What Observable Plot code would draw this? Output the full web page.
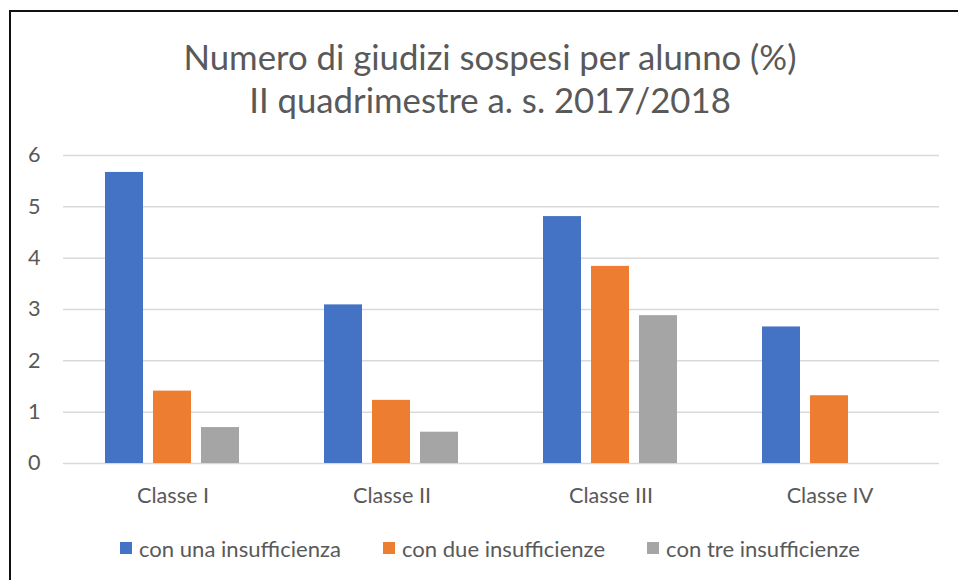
<!DOCTYPE html>
<html><head><meta charset="utf-8">
<script src="https://cdn.jsdelivr.net/npm/d3@7"></script>
<script src="https://cdn.jsdelivr.net/npm/@observablehq/plot@0.6"></script>
<style>
body{margin:0;background:#fff;}
#wrap{position:relative;width:958px;height:580px;overflow:hidden;font-family:Lato,sans-serif;color:#595959;background:#fff;}
#frame{position:absolute;left:9px;top:10px;width:1100px;height:700px;border-left:2px solid #111;border-top:2px solid #111;}
#title{position:absolute;left:0;top:35px;width:980px;text-align:center;white-space:nowrap;line-height:43px;font-weight:400;}
#chart{position:absolute;left:0;top:130px;}
#legend{position:absolute;top:538px;left:0;width:980px;height:20px;display:flex;justify-content:center;align-items:center;white-space:nowrap;}
.item{display:flex;align-items:center;margin:0 21px;}
.sw{width:12px;height:12px;margin-right:7px;}
</style></head>
<body>
<div id="wrap">
  <div id="frame"></div>
  <div id="title"></div>
  <div id="chart"></div>
  <div id="legend"></div>
</div>
<script>
const classi = ["Classe I", "Classe II", "Classe III", "Classe IV"];
const serie = ["con una insufficienza", "con due insufficienze", "con tre insufficienze"];
const unaInsufficienza = [5.67, 3.09, 4.81, 2.66];
const dueInsufficienze = [1.41, 1.23, 3.84, 1.32];
const treInsufficienze = [0.70, 0.61, 2.88, 0];
const colori = ["#4472C4", "#ED7D31", "#A5A5A5"];
const yTicks = [0, 1, 2, 3, 4, 5, 6];
const titolo = ["Numero di giudizi sospesi per alunno (%)", "II quadrimestre a. s. 2017/2018"];

const valori = [unaInsufficienza, dueInsufficienze, treInsufficienze];
const data = [];
classi.forEach((c, i) => serie.forEach((s, j) => data.push({classe: c, serie: s, valore: valori[j][i]})));

const ctx = document.createElement("canvas").getContext("2d");
function fit(text, target, weight = 400, family = "Lato") {
  ctx.font = `${weight} 100px ${family}`;
  return 100 * target / ctx.measureText(text).width;
}
const titleSize = fit(titolo[0], 614, 400);
const tickSize = fit("Classe I", 72);
const legendSize = fit(serie[0], 202);

const t = document.getElementById("title");
t.style.fontSize = titleSize + "px";
t.innerHTML = titolo.join("<br>");

const plot = Plot.plot({
  width: 958,
  height: 380,
  marginTop: 25,
  marginBottom: 47,
  marginLeft: 62,
  marginRight: 18,
  style: {fontFamily: "Lato, sans-serif", fontSize: tickSize + "px", color: "#595959", background: "transparent"},
  fx: {domain: classi, padding: 0, axis: "bottom", tickSize: 0, tickPadding: 24, label: null},
  x: {domain: serie, paddingInner: 0.2, paddingOuter: 0.865, axis: null},
  y: {domain: [0, 6], ticks: yTicks, tickFormat: "d", tickSize: 0, tickPadding: 23, label: null},
  color: {domain: serie, range: colori},
  marks: [
    Plot.gridY(yTicks, {stroke: "#d9d9d9", strokeOpacity: 1, strokeWidth: 1.5}),
    Plot.barY(data, {fx: "classe", x: "serie", y: "valore", fill: "serie"})
  ]
});
document.getElementById("chart").appendChild(plot);

const lg = document.getElementById("legend");
lg.style.fontSize = legendSize + "px";
serie.forEach((s, j) => {
  const it = document.createElement("div");
  it.className = "item";
  it.innerHTML = `<span class="sw" style="background:${colori[j]}"></span><span>${s}</span>`;
  lg.appendChild(it);
});
</script>
</body></html>
